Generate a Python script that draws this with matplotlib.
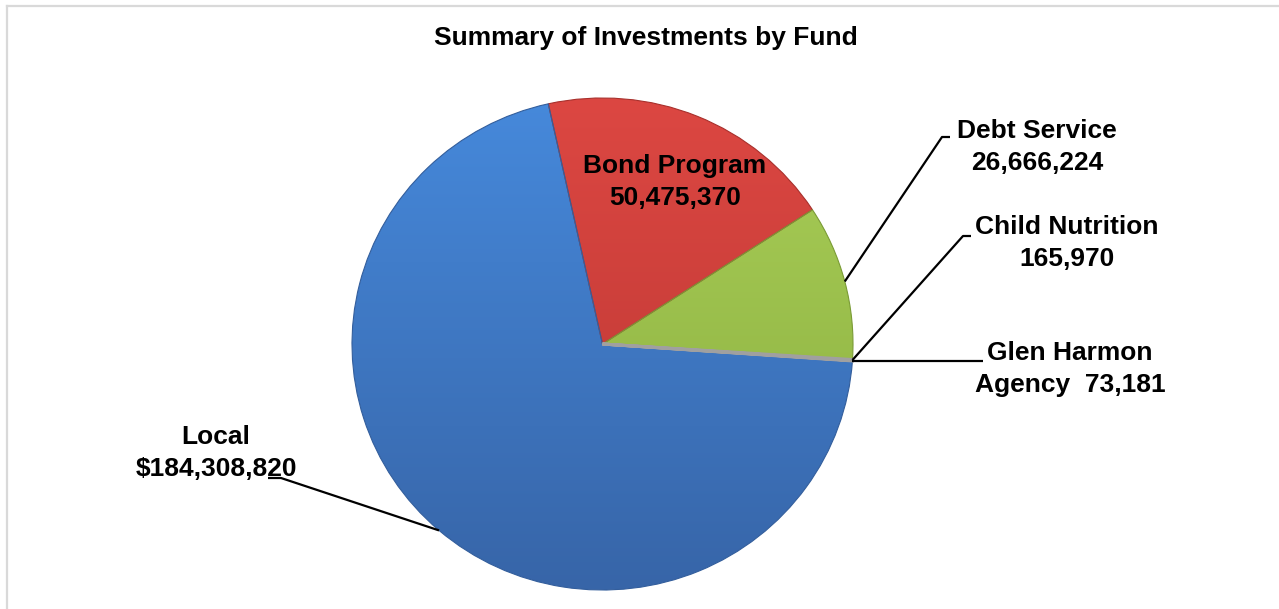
import numpy as np
import matplotlib
matplotlib.use("Agg")
import matplotlib.pyplot as plt
from matplotlib.colors import LinearSegmentedColormap
from matplotlib.lines import Line2D

plt.rcParams['font.family'] = ['Liberation Sans', 'DejaVu Sans']

# Fund balances
funds = ["Bond Program", "Debt Service", "Child Nutrition", "Glen Harmon Agency", "Local"]
amounts = [50475370, 26666224, 165970, 73181, 184308820]
labels = ["Bond Program\n50,475,370",
          "Debt Service\n26,666,224",
          "Child Nutrition\n165,970",
          "Glen Harmon\nAgency  73,181",
          "Local\n$184,308,820"]
title = "Summary of Investments by Fund"

# top / bottom shades of each slice
top_colors = ["#DC4742", "#A9CE58", "#B3B3B3", "#A6A6A6", "#4689DB"]
bottom_colors = ["#B93632", "#89AD3D", "#959595", "#8C8C8C", "#3765A8"]
edge_colors = ["#A8302C", "#7A9B35", "#A0A0A0", "#A0A0A0", "#335E9C"]
edge_widths = [0.8, 0.8, 2.2, 2.2, 0.8]

W, H = 1279, 609
fig = plt.figure(figsize=(W / 100, H / 100), dpi=100)
fig.patch.set_facecolor("white")

# chart border (top and left edges visible)
bc = "#D9D9D9"
fig.add_artist(Line2D([6.5 / W, 6.5 / W], [0, 1 - 5.5 / H], color=bc, lw=1.6,
                      transform=fig.transFigure))
fig.add_artist(Line2D([6.5 / W, 1], [1 - 5.5 / H, 1 - 5.5 / H], color=bc, lw=1.6,
                      transform=fig.transFigure))

# pie occupies its own axes box
px_l, px_r, px_t, px_b = 352, 853, 98, 590
ax = fig.add_axes([px_l / W, (H - px_b) / H, (px_r - px_l) / W, (px_b - px_t) / H])
wedges, _ = ax.pie(amounts, startangle=102.5, counterclock=False, radius=1,
                   colors=top_colors, frame=False,
                   wedgeprops=dict(linewidth=0.8))
ax.set_aspect("auto")
ax.axis("off")

g = np.linspace(0, 1, 256)[:, None]
for w, tc, bcol, ec, lw in zip(wedges, top_colors, bottom_colors, edge_colors, edge_widths):
    cmap = LinearSegmentedColormap.from_list("shade", [tc, bcol])
    im = ax.imshow(g, extent=(-1, 1, -1, 1), cmap=cmap, aspect="auto",
                   origin="upper", zorder=1)
    im.set_clip_path(w)
    w.set_facecolor("none")
    w.set_edgecolor(ec)
    w.set_linewidth(lw)
    w.set_zorder(2 if lw < 1 else 2.5)
ax.set_xlim(-1, 1)
ax.set_ylim(-1, 1)


def px_to_data(px, py):
    x = (px - px_l) / (px_r - px_l) * 2 - 1
    y = (px_b - py) / (px_b - px_t) * 2 - 1
    return x, y


def mid_point(w):
    a = np.deg2rad((w.theta1 + w.theta2) / 2)
    return np.cos(a), np.sin(a)


fs = 19
ls = 1.38
# title
fig.text(646 / W, 1 - 38 / H, title, ha="center", va="center",
         fontsize=19, fontweight="bold")

# Bond Program label inside its slice
bx, by = px_to_data(675, 182)
ax.text(bx, by, labels[0], ha="center", va="center", fontsize=fs,
        fontweight="bold", linespacing=ls, zorder=5)

# outside labels: text centre, elbow point, end point (pixels)
outside = [
    (1, (1037, 147), [(942, 137), (950, 137)]),
    (2, (1067, 243), [(963, 236), (971, 236)]),
    (3, (1070, 369), None),
    (4, (216, 453), [(281, 478), (268, 478)]),
]
for idx, (tx, ty), path in outside:
    x0, y0 = mid_point(wedges[idx])
    if path is None:
        ex, _ = px_to_data(983, 0)
        xs, ys = [x0, ex], [y0, y0]
    else:
        pts = [px_to_data(*p) for p in path]
        xs = [x0] + [p[0] for p in pts]
        ys = [y0] + [p[1] for p in pts]
    ax.plot(xs, ys, color="black", lw=1.6, clip_on=False, zorder=4,
            solid_capstyle="butt")
    lx, ly = px_to_data(tx, ty)
    ax.text(lx, ly, labels[idx], ha="center", va="center", fontsize=fs,
            fontweight="bold", linespacing=ls, clip_on=False, zorder=5)

fig.savefig("out.png", dpi=100, facecolor="white")
